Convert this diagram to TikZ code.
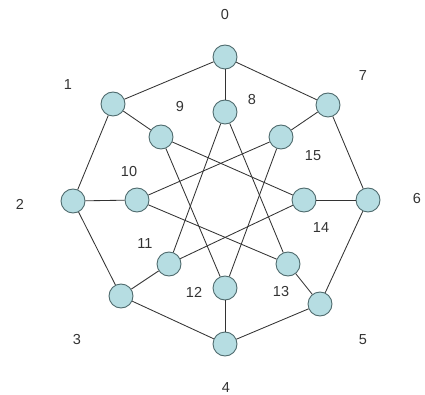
\documentclass[tikz,border=0pt]{standalone}
\usepackage{fontspec}
\setmainfont{Liberation Sans}
\definecolor{nodefill}{HTML}{B6DDE2}
\definecolor{nodeedge}{HTML}{4F6B6E}
\definecolor{edgecol}{HTML}{333333}
\begin{document}
\begin{tikzpicture}[x=1pt,y=-1pt,
  vtx/.style={circle,draw=nodeedge,fill=nodefill,line width=0.9pt,minimum size=24pt,inner sep=0pt},
  lbl/.style={font=\fontsize{14.5}{16}\selectfont,text=black!80},
  edge/.style={draw=edgecol,line width=0.85pt}]
\useasboundingbox (0,0) rectangle (425,395);
% outer
\node[vtx] (v0) at (225,57) {};
\node[vtx] (v1) at (113,104) {};
\node[vtx] (v2) at (73,201) {};
\node[vtx] (v3) at (121,296) {};
\node[vtx] (v4) at (225,344) {};
\node[vtx] (v5) at (320,304) {};
\node[vtx] (v6) at (368,200) {};
\node[vtx] (v7) at (328,105) {};
% inner
\node[vtx] (v8) at (225,112) {};
\node[vtx] (v9) at (161,137) {};
\node[vtx] (v10) at (137,200) {};
\node[vtx] (v11) at (169,264) {};
\node[vtx] (v12) at (225,288) {};
\node[vtx] (v13) at (288,264) {};
\node[vtx] (v14) at (304,200) {};
\node[vtx] (v15) at (281,137) {};
% edges
\foreach \a/\b in {0/1,1/2,2/3,3/4,4/5,5/6,6/7,7/0,
  0/8,1/9,2/10,3/11,4/12,5/13,6/14,7/15,
  8/11,11/14,14/9,9/12,12/15,15/10,10/13,13/8}
  \draw[edge] (v\a) -- (v\b);
% labels
\node[lbl] (l0) at (225,15) {0};
\node[lbl] (l1) at (68,85) {1};
\node[lbl] (l2) at (20,204) {2};
\node[lbl] (l3) at (77,340) {3};
\node[lbl] (l4) at (226,388) {4};
\node[lbl] (l5) at (363,340) {5};
\node[lbl] (l6) at (417,199) {6};
\node[lbl] (l7) at (363,76) {7};
\node[lbl] (l8) at (252,100) {8};
\node[lbl] (l9) at (180,107) {9};
\node[lbl] (l10) at (129,172) {10};
\node[lbl] (l11) at (145,244) {11};
\node[lbl] (l12) at (194,292) {12};
\node[lbl] (l13) at (281,292) {13};
\node[lbl] (l14) at (321,228) {14};
\node[lbl] (l15) at (313,156) {15};
\end{tikzpicture}
\end{document}
